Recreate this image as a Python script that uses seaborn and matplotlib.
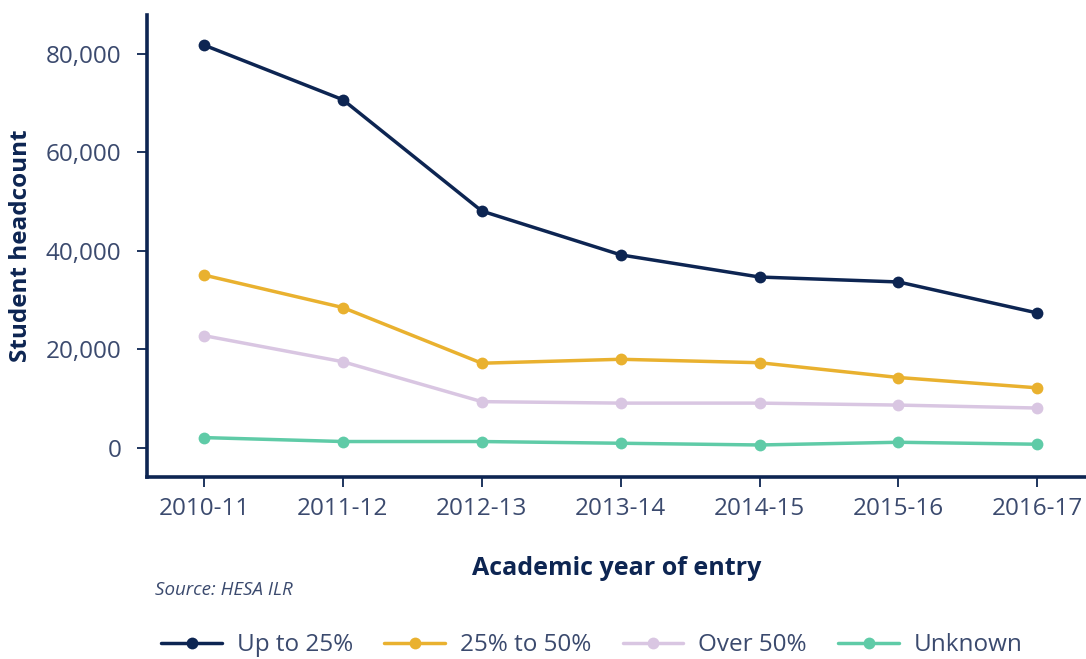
import matplotlib
matplotlib.use("Agg")
import matplotlib.pyplot as plt
import seaborn as sns
import pandas as pd

years = ["2010-11", "2011-12", "2012-13", "2013-14", "2014-15", "2015-16", "2016-17"]
up_to_25 = [81800, 70700, 48100, 39200, 34700, 33700, 27400]
from_25_to_50 = [35100, 28500, 17200, 18000, 17300, 14300, 12200]
over_50 = [22800, 17500, 9400, 9100, 9100, 8700, 8100]
unknown = [2100, 1300, 1300, 950, 600, 1150, 750]

series_names = ["Up to 25%", "25% to 50%", "Over 50%", "Unknown"]
colors = ["#0d2552", "#e9b12f", "#d9c6e2", "#5fcba7"]

frames = []
for name, vals in zip(series_names, [up_to_25, from_25_to_50, over_50, unknown]):
    frames.append(pd.DataFrame({"year": years, "count": vals, "group": name}))
df = pd.concat(frames, ignore_index=True)
df["pos"] = df["year"].map({y: i for i, y in enumerate(years)})

sns.set_style("white")
plt.rcParams["font.family"] = ["Open Sans", "DejaVu Sans"]

navy = "#0d2552"
tick_col = "#3b4a6e"

fig = plt.figure(figsize=(10.86, 6.59), dpi=100)
ax = fig.add_axes([0.1354, 0.2762, 0.8646, 0.7010])

sns.lineplot(data=df, x="pos", y="count", hue="group", hue_order=series_names,
             palette=colors, marker="o", markersize=8.5, markeredgewidth=0,
             linewidth=2.5, dashes=False, ax=ax)

ax.set_xlim(-0.41, 6.35)
ax.set_ylim(-5900, 87900)
ax.set_xticks(range(len(years)))
ax.set_xticklabels(years)
ax.set_yticks([0, 20000, 40000, 60000, 80000])
ax.set_yticklabels([f"{v:,}" for v in [0, 20000, 40000, 60000, 80000]])

for s in ["top", "right"]:
    ax.spines[s].set_visible(False)
for s in ["left", "bottom"]:
    ax.spines[s].set_color(navy)
    ax.spines[s].set_linewidth(2.6)

ax.tick_params(axis="both", colors=navy, length=7.5, width=1.3, labelsize=17.5,
               labelcolor=tick_col, left=True, bottom=True)
ax.tick_params(axis="y", pad=11)
ax.tick_params(axis="x", pad=7)

ax.set_ylabel("Student headcount", fontsize=17.5, fontweight="bold", color=navy)
ax.yaxis.set_label_coords(-0.121, 0.5)
ax.set_xlabel("Academic year of entry", fontsize=18, fontweight="bold", color=navy)
ax.xaxis.set_label_coords(0.5, -0.172)

fig.text(0.143, 0.105, "Source: HESA ILR", fontsize=13.5, style="italic",
         color=tick_col, va="center")

ax.get_legend().remove()
handles, labels = ax.get_legend_handles_labels()
fig.legend(handles, labels, loc="center", bbox_to_anchor=(0.545, 0.021), ncol=4,
           frameon=False, fontsize=17.5, labelcolor=tick_col, handlelength=2.5,
           columnspacing=1.3, handletextpad=0.6)

fig.savefig("out.png", dpi=100)
